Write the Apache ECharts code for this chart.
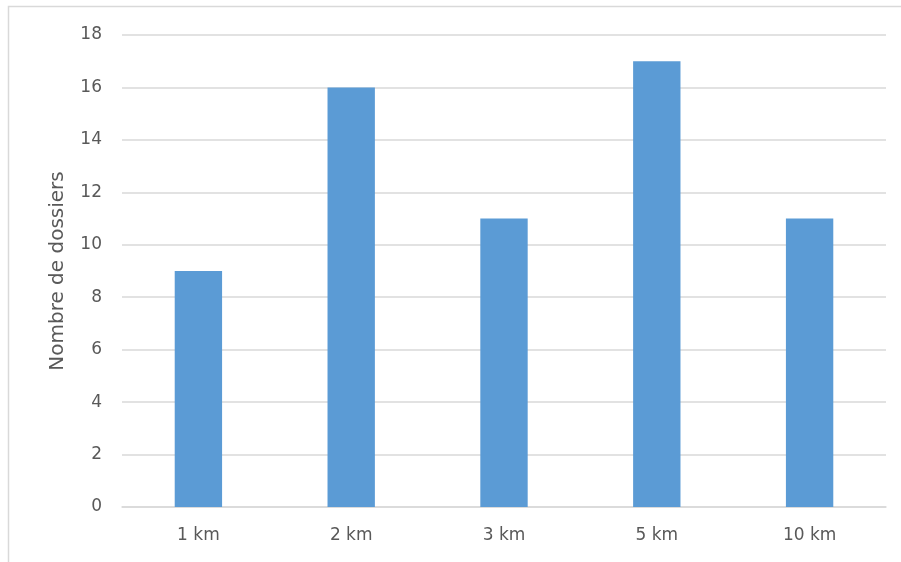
<!DOCTYPE html>
<html>
<head>
<meta charset="utf-8">
<script src="https://cdn.jsdelivr.net/npm/echarts@6/dist/echarts.min.js"></script>
<style>
html,body{margin:0;padding:0;background:#fff;}
#c{width:901px;height:562px;}
</style>
</head>
<body>
<div id="c"></div>
<script>
const categories = ['1 km', '2 km', '3 km', '5 km', '10 km'];
const values = [9, 16, 11, 17, 11];
const yAxisName = 'Nombre de dossiers';

const chart = echarts.init(document.getElementById('c'), null, {renderer: 'canvas'});
const txt = '#595959';
const font = 'DejaVu Sans';
chart.setOption({
  animation: false,
  graphic: [{
    type: 'rect',
    shape: {x: 8.5, y: 6.5, width: 900, height: 560},
    style: {fill: 'none', stroke: '#d9d9d9', lineWidth: 1.5},
    silent: true
  }],
  grid: {left: 122, right: 15, top: 35, bottom: 55, containLabel: false},
  xAxis: {
    type: 'category',
    data: categories,
    axisLine: {show: true, lineStyle: {color: '#d9d9d9', width: 1.5}},
    axisTick: {show: false},
    axisLabel: {color: txt, fontFamily: font, fontSize: 17, margin: 20}
  },
  yAxis: {
    type: 'value',
    min: 0, max: 18, interval: 2,
    name: yAxisName,
    nameLocation: 'middle',
    nameRotate: 90,
    nameGap: 54,
    nameTextStyle: {color: txt, fontFamily: font, fontSize: 20},
    axisLine: {show: false},
    axisTick: {show: false},
    splitLine: {lineStyle: {color: '#d9d9d9', width: 1.5}},
    axisLabel: {color: txt, fontFamily: font, fontSize: 17, margin: 20}
  },
  series: [{
    type: 'bar',
    data: values,
    barWidth: '31%',
    itemStyle: {color: '#5B9BD5'}
  }]
});
</script>
</body>
</html>
